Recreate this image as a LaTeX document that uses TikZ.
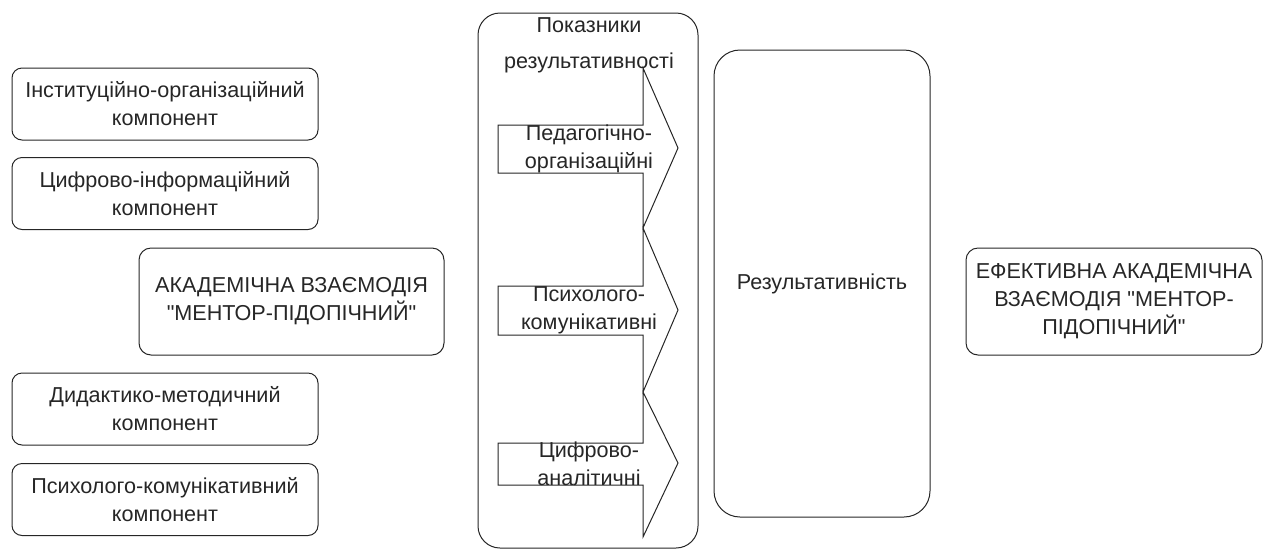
\documentclass[tikz,border=0pt]{standalone}
\usepackage{fontspec}
\setmainfont{Liberation Sans}
\begin{document}
\begin{tikzpicture}
  [
    x=1pt, y=-1pt,
    every node/.style={font=\fontsize{21.6}{28}\selectfont, text=black!85, align=center},
    outline/.style={line width=1pt, draw=black!85},
    component/.style={outline, rounded corners=10pt, minimum width=306pt, minimum height=72pt, inner sep=0pt},
    interaction/.style={outline, rounded corners=12pt, minimum height=107pt, inner sep=0pt},
    frame/.style={outline, rounded corners=22pt, minimum width=220pt, minimum height=535pt},
    result/.style={outline, rounded corners=26pt, minimum width=216pt, minimum height=467pt},
    indicator/.style={outline, fill=white, line join=miter}
  ]
  \useasboundingbox (0,0) rectangle (1264,550);

  \node[component] (inst) at (165, 104) {Інституційно-організаційний\\компонент};
  \node[component] (digit) at (165, 193.5) {Цифрово-інформаційний\\компонент};
  \node[interaction, minimum width=305pt] (academic) at (291.5, 301.5) {АКАДЕМІЧНА ВЗАЄМОДІЯ\\\textquotedbl МЕНТОР-ПІДОПІЧНИЙ\textquotedbl};
  \node[component] (didact) at (165, 409) {Дидактико-методичний\\компонент};
  \node[component] (psycho) at (165, 499.5) {Психолого-комунікативний\\компонент};

  \node[frame] (indicators) at (588, 280.5) {};
  \node (title) at (589, 45) {Показники\\[8pt]результативності};

  \draw[indicator] (498,125) -- (643,125) -- (643,68) -- (678,148) -- (643,228) -- (643,173) -- (498,173) -- cycle;
  \node (ped) at (589, 149) {Педагогічно-\\організаційні};

  \draw[indicator] (498,286) -- (643,286) -- (643,228) -- (678,310) -- (643,392) -- (643,335) -- (498,335) -- cycle;
  \node (com) at (589, 310) {Психолого-\\комунікативні};

  \draw[indicator] (498,443) -- (643,443) -- (643,392) -- (678,463) -- (643,537) -- (643,485) -- (498,485) -- cycle;
  \node (anal) at (589, 464) {Цифрово-\\аналітичні};

  \node[result] (res) at (822, 283.5) {Результативність};
  \node[interaction, minimum width=296pt] (effect) at (1114, 301.5) {ЕФЕКТИВНА АКАДЕМІЧНА\\ВЗАЄМОДІЯ \textquotedbl МЕНТОР-\\ПІДОПІЧНИЙ\textquotedbl};
\end{tikzpicture}
\end{document}
